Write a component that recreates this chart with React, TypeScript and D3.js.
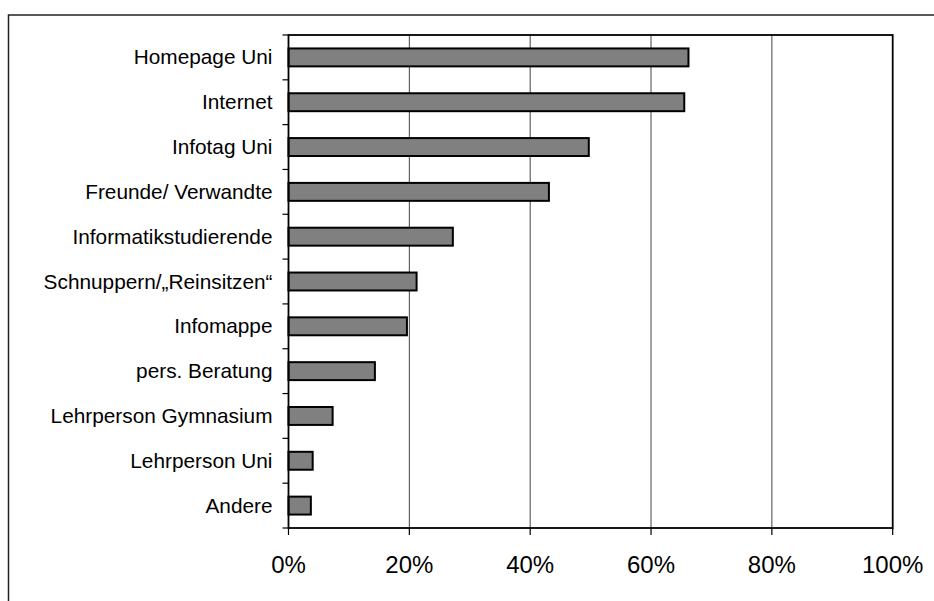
import React from "react";
import * as d3 from "d3";

const categories = [
  "Homepage Uni",
  "Internet",
  "Infotag Uni",
  "Freunde/ Verwandte",
  "Informatikstudierende",
  "Schnuppern/„Reinsitzen“",
  "Infomappe",
  "pers. Beratung",
  "Lehrperson Gymnasium",
  "Lehrperson Uni",
  "Andere",
];
const values = [66.2, 65.5, 49.7, 43.1, 27.2, 21.2, 19.6, 14.3, 7.3, 4.0, 3.7];
const xTicks = [0, 20, 40, 60, 80, 100];

const W = 934;
const H = 601;
const left = 288.5;
const right = 892.7;
const top = 35;
const bottom = 528;

export default function App() {
  const x = d3.scaleLinear().domain([0, 100]).range([left, right]);
  const y = d3.scaleBand<string>().domain(categories).range([top, bottom]).paddingInner(0.6).paddingOuter(0.3);
  const step = (bottom - top) / categories.length;
  const boundaries = d3.range(categories.length + 1).map((i) => top + i * step);
  const font = "Arial, 'Liberation Sans', Helvetica, sans-serif";
  return (
    <svg width={W} height={H} style={{ position: "absolute", left: 0, top: 0, background: "#fff" }}>
      <rect x={0} y={0} width={W} height={H} fill="#fff" />
      <rect x={8.5} y={15} width={W + 20} height={H + 20} fill="none" stroke="#222" strokeWidth={1.5} />
      {xTicks.slice(1, -1).map((t) => (
        <line key={"g" + t} x1={x(t)} x2={x(t)} y1={top} y2={bottom} stroke="#444" strokeWidth={1} />
      ))}
      {categories.map((c, i) => (
        <rect
          key={c}
          x={x(0)}
          y={y(c)!}
          width={x(values[i]) - x(0)}
          height={y.bandwidth()}
          fill="#808080"
          stroke="#000"
          strokeWidth={2}
        />
      ))}
      <rect x={left} y={top} width={right - left} height={bottom - top} fill="none" stroke="#000" strokeWidth={1.8} />
      {boundaries.map((b, i) => (
        <line key={"yt" + i} x1={left - 6} x2={left} y1={b} y2={b} stroke="#000" strokeWidth={1.2} />
      ))}
      {xTicks.map((t) => (
        <line key={"xt" + t} x1={x(t)} x2={x(t)} y1={bottom} y2={bottom + 7} stroke="#000" strokeWidth={1.2} />
      ))}
      {categories.map((c) => (
        <text
          key={"l" + c}
          x={left - 16}
          y={y(c)! + y.bandwidth() / 2 + 7}
          textAnchor="end"
          fontFamily={font}
          fontSize={20.8}
          fill="#000"
        >
          {c}
        </text>
      ))}
      {xTicks.map((t) => (
        <text
          key={"xl" + t}
          x={x(t)}
          y={bottom + 45}
          textAnchor="middle"
          fontFamily={font}
          fontSize={24}
          fill="#000"
        >
          {t + "%"}
        </text>
      ))}
    </svg>
  );
}
